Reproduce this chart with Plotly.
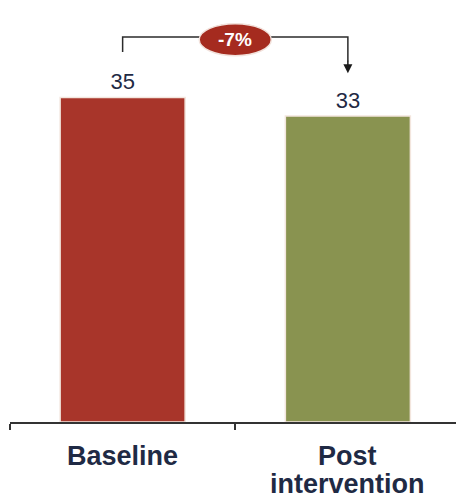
import plotly.graph_objects as go

categories = ["Baseline", "Post<br>intervention"]
values = [35, 33]
bar_colors = ["#A8352A", "#899350"]
change_label = "-7%"

ink = "#1F2A44"
font_family = "Arial, Liberation Sans, sans-serif"

fig = go.Figure()
fig.add_trace(go.Bar(
    x=categories, y=values,
    marker=dict(color=bar_colors, line=dict(color="#F3E6DE", width=1.5)),
    width=0.555,
    text=[str(v) for v in values], textposition="outside",
    textfont=dict(size=22, color=ink, family=font_family),
    cliponaxis=False,
))

# category labels, drawn line by line so the spacing stays tight
for i, cat in enumerate(categories):
    for j, line in enumerate(cat.split("<br>")):
        fig.add_annotation(x=i, y=0, xref="x", yref="y", yanchor="top",
                           yshift=-17 - 28 * j, text=f"<b>{line}</b>", showarrow=False,
                           font=dict(size=27, color=ink, family=font_family))

# bracket from baseline to post intervention
top = 41.5
fig.add_shape(type="path", xref="x", yref="y",
              path=f"M 0 {top - 1.6} L 0 {top} L 1 {top} L 1 {top - 2.6}",
              line=dict(color="#2B2B2B", width=1.5))
fig.add_annotation(x=1, y=37.6, ax=1, ay=top - 2.4, xref="x", yref="y",
                   axref="x", ayref="y", text="", showarrow=True,
                   arrowhead=2, arrowsize=1.2, arrowwidth=1.5, arrowcolor="#1a1a1a")
fig.add_shape(type="circle", xref="x", yref="y",
              x0=0.34, x1=0.66, y0=top - 2.0, y1=top + 1.45,
              fillcolor="#A52B1F", line=dict(color="#F2E2DC", width=1.5), layer="above")
fig.add_annotation(x=0.5, y=top - 0.3, xref="x", yref="y", text=f"<b>{change_label}</b>",
                   showarrow=False,
                   font=dict(size=19, color="white", family=font_family))

fig.update_layout(
    width=456, height=496,
    margin=dict(l=10, r=0, t=0, b=74),
    plot_bgcolor="white", paper_bgcolor="white",
    showlegend=False,
    bargap=0.45,
    xaxis=dict(
        type="category", range=[-0.5, 1.48],
        tickson="boundaries", ticks="outside", ticklen=6, tickwidth=1.5,
        tickcolor="#333333", showline=True, linecolor="#333333", linewidth=2,
        showgrid=False, zeroline=False, showticklabels=False, automargin=False,
    ),
    yaxis=dict(range=[0, 45.5], visible=False, showgrid=False, zeroline=False),
)

fig.write_html("out.html", config={"displayModeBar": False},
               post_script="document.body.style.margin='0';")
